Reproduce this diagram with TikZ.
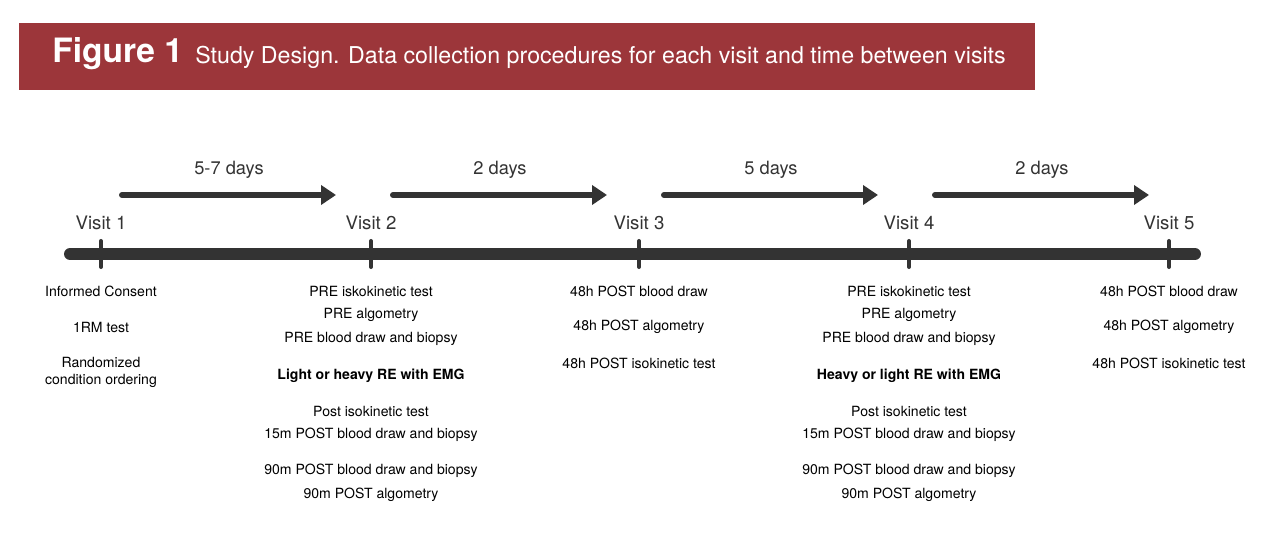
\documentclass[tikz,border=0pt]{standalone}
\usepackage{fontspec}
\setmainfont{TeX Gyre Heros}
\usepackage{xcolor}
\usetikzlibrary{arrows.meta, calc}
\definecolor{banner}{HTML}{9C363A}
\definecolor{ink}{HTML}{333333}

\begin{document}
\begin{tikzpicture}[x=0.02cm, y=-0.02cm,
  visit/.style={font=\fontsize{10.6}{12}\selectfont, text=ink, inner sep=0pt},
  gap/.style={font=\fontsize{10.4}{12}\selectfont, text=ink, inner sep=0pt},
  item/.style={font=\fontsize{8}{9.6}\selectfont, align=center, inner sep=0pt},
  tick/.style={line width=2.3pt, ink, line cap=round},
  span/.style={-{Triangle[length=0.3cm,width=0.38cm]}, line width=3.4pt, ink, line cap=round},
  axis/.style={line width=6.8pt, ink, line cap=round}
]
\useasboundingbox (0,0) rectangle (1271,543);

%% Title banner
\fill[banner] (19,23) rectangle (1035,90);
\node[anchor=base west, inner sep=0pt, text=white, font=\fontsize{19.1}{21}\selectfont\bfseries]
  (fig) at (52,63) {Figure 1};
\node[anchor=base west, inner sep=0pt, text=white, font=\fontsize{13.2}{15}\selectfont]
  (cap) at (195,64) {Study Design. Data collection procedures for each visit and time between visits};

%% Timeline and visits
\coordinate (tl-a) at (70,254);
\coordinate (tl-b) at (1195,254);
\draw[axis] (tl-a) -- (tl-b);

\foreach \x [count=\i] in {101,371,639,909,1169} {
  \coordinate (t\i) at (\x,254);
  \draw[tick] ([yshift=0.26cm]t\i) -- ([yshift=-0.26cm]t\i);
  \node[visit] (v\i) at (\x,223) {Visit \i};
}

%% Time between visits
\foreach \a/\b/\d [count=\i] in {122/336/5-7 days, 393/607/2 days, 664/878/5 days, 935/1149/2 days} {
  \coordinate (s\i) at (\a,195);
  \coordinate (e\i) at (\b,195);
  \draw[span] (s\i) -- (e\i);
  \node[gap] (d\i) at ($(s\i)!0.5!(e\i)+(0,-25)$) {\d};
}

%% Procedures per visit
\node[item] (p1-1) at (101,291) {Informed Consent};
\node[item] (p1-2) at (101,327) {1RM test};
\node[item] (p1-3) at (101,372) {Randomized\\condition ordering};

\foreach \y/\t [count=\i] in {291/PRE iskokinetic test, 315/PRE algometry,
    339/PRE blood draw and biopsy, 376/\textbf{Light or heavy RE with EMG},
    411/Post isokinetic test, 435/15m POST blood draw and biopsy,
    471/90m POST blood draw and biopsy, 495/90m POST algometry}
  \node[item] (p2-\i) at (371,\y) {\t};

\foreach \y/\t [count=\i] in {291/48h POST blood draw, 327/48h POST algometry,
    363/48h POST isokinetic test}
  \node[item] (p3-\i) at (639,\y) {\t};

\foreach \y/\t [count=\i] in {291/PRE iskokinetic test, 315/PRE algometry,
    339/PRE blood draw and biopsy, 376/\textbf{Heavy or light RE with EMG},
    411/Post isokinetic test, 435/15m POST blood draw and biopsy,
    471/90m POST blood draw and biopsy, 495/90m POST algometry}
  \node[item] (p4-\i) at (909,\y) {\t};

\foreach \y/\t [count=\i] in {291/48h POST blood draw, 327/48h POST algometry,
    363/48h POST isokinetic test}
  \node[item] (p5-\i) at (1169,\y) {\t};

\end{tikzpicture}
\end{document}
